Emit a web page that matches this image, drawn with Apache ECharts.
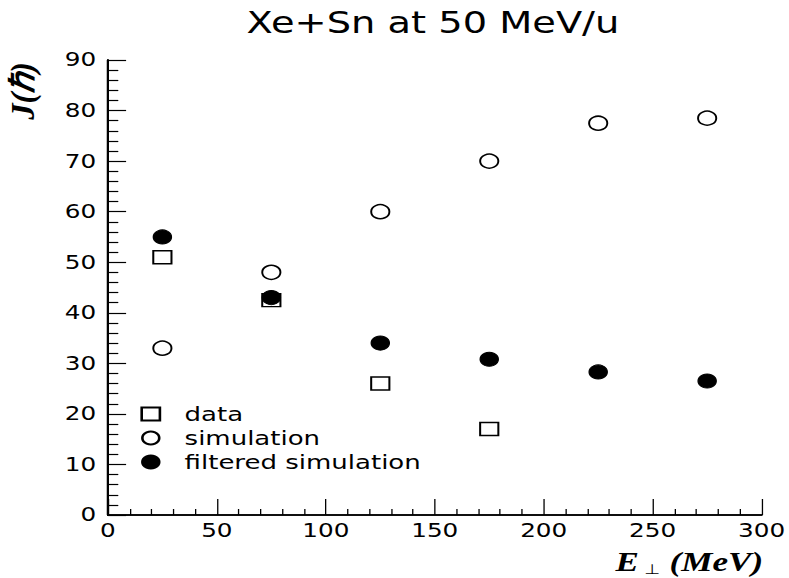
<!DOCTYPE html>
<html><head><meta charset="utf-8">
<script src="https://cdn.jsdelivr.net/npm/echarts@6/dist/echarts.min.js"></script>
<style>
html,body{margin:0;padding:0;background:#fff;overflow:hidden}
#wrap{width:789px;height:578px;overflow:hidden}
/* the reference picture is stretched horizontally; reproduce it by scaling the chart box */
#c{width:607px;height:578px;transform:scaleX(1.3);transform-origin:0 0}
</style>
</head><body><div id="wrap"><div id="c"></div></div>
<script>
const title = 'Xe+Sn at 50 MeV/u';
const energies = [25, 75, 125, 175, 225, 275];
const dataVals = [51, 42.5, 26, 17];
const simVals = [33, 48, 60, 70, 77.5, 78.5];
const filtVals = [55, 43, 34, 30.8, 28.3, 26.5];
const seriesNames = ['data', 'simulation', 'filtered simulation'];
const xTicks = {min: 0, max: 300, interval: 50};
const yTicks = {min: 0, max: 90, interval: 10};

const font = '"DejaVu Sans", sans-serif';
const pairs = (xs, ys) => ys.map((y, i) => [xs[i], y]);
const chart = echarts.init(document.getElementById('c'), null, {renderer: 'svg'});
const lineStyle = {color: '#000', width: 1.6};
chart.setOption({
  animation: false,
  backgroundColor: '#fff',
  title: {text: title, left: 328, textAlign: 'center', top: 3,
          textStyle: {fontFamily: font, fontWeight: 'normal', fontSize: 29.5, color: '#000'}},
  grid: {left: 83, right: 21, top: 60, bottom: 63},
  legend: {
    orient: 'vertical', left: 103, top: 399, itemGap: 4, itemWidth: 14, itemHeight: 13,
    data: seriesNames,
    textStyle: {fontFamily: font, fontSize: 20, color: '#000', padding: [0, 0, 0, 14]}
  },
  xAxis: [{
    type: 'value', ...xTicks,
    axisLine: {show: true, lineStyle}, splitLine: {show: false},
    axisTick: {show: true, inside: true, length: 16, lineStyle: {color: '#000', width: 1}},
    minorTick: {show: true, splitNumber: 5, length: 6, lineStyle: {color: '#000', width: 1}},
    axisLabel: {fontFamily: font, fontSize: 19, color: '#000', margin: 6}
  }, {
    type: 'value', min: 0, max: 300, position: 'top',
    axisLine: {show: true, lineStyle}, splitLine: {show: false},
    axisTick: {show: false}, axisLabel: {show: false}
  }],
  yAxis: [{
    type: 'value', ...yTicks,
    axisLine: {show: true, lineStyle}, splitLine: {show: false},
    axisTick: {show: true, inside: true, length: 14, lineStyle: {color: '#000', width: 1.2}},
    minorTick: {show: true, splitNumber: 5, length: 8, lineStyle: {color: '#000', width: 1.2}},
    axisLabel: {fontFamily: font, fontSize: 19, color: '#000', margin: 9}
  }, {
    type: 'value', min: 0, max: 90, position: 'right',
    axisLine: {show: true, lineStyle}, splitLine: {show: false},
    axisTick: {show: false}, axisLabel: {show: false}
  }],
  graphic: [
    {type: 'text', x: 17.5, y: 62, rotation: Math.PI / 2, scaleX: 1.26,
     style: {text: 'J(ℏ)', font: 'bold italic 26px "Liberation Serif", serif', fill: '#000',
             textAlign: 'right', textVerticalAlign: 'middle'}},
    {type: 'text', x: 587, y: 562,
     style: {text: '{e|E}{s|⊥} {e|(MeV)}', fill: '#000', textAlign: 'right', textVerticalAlign: 'middle',
             rich: {e: {font: 'bold italic 27px "Liberation Serif", serif', fill: '#000', color: '#000'},
                    s: {font: '14px "DejaVu Sans", sans-serif', fill: '#000', color: '#000', padding: [14, 4, 0, 4]}}}}
  ],
  series: [
    {name: seriesNames[0], type: 'scatter', symbol: 'rect', symbolSize: [14, 13],
     itemStyle: {color: '#fff', borderColor: '#000', borderWidth: 1.5, opacity: 1},
     data: pairs(energies, dataVals)},
    {name: seriesNames[1], type: 'scatter', symbol: 'circle', symbolSize: [14, 14],
     itemStyle: {color: '#fff', borderColor: '#000', borderWidth: 1.5, opacity: 1},
     data: pairs(energies, simVals)},
    {name: seriesNames[2], type: 'scatter', symbol: 'circle', symbolSize: [14, 14],
     itemStyle: {color: '#000', borderColor: '#000', borderWidth: 1, opacity: 1},
     data: pairs(energies, filtVals)}
  ]
});
</script></body></html>
